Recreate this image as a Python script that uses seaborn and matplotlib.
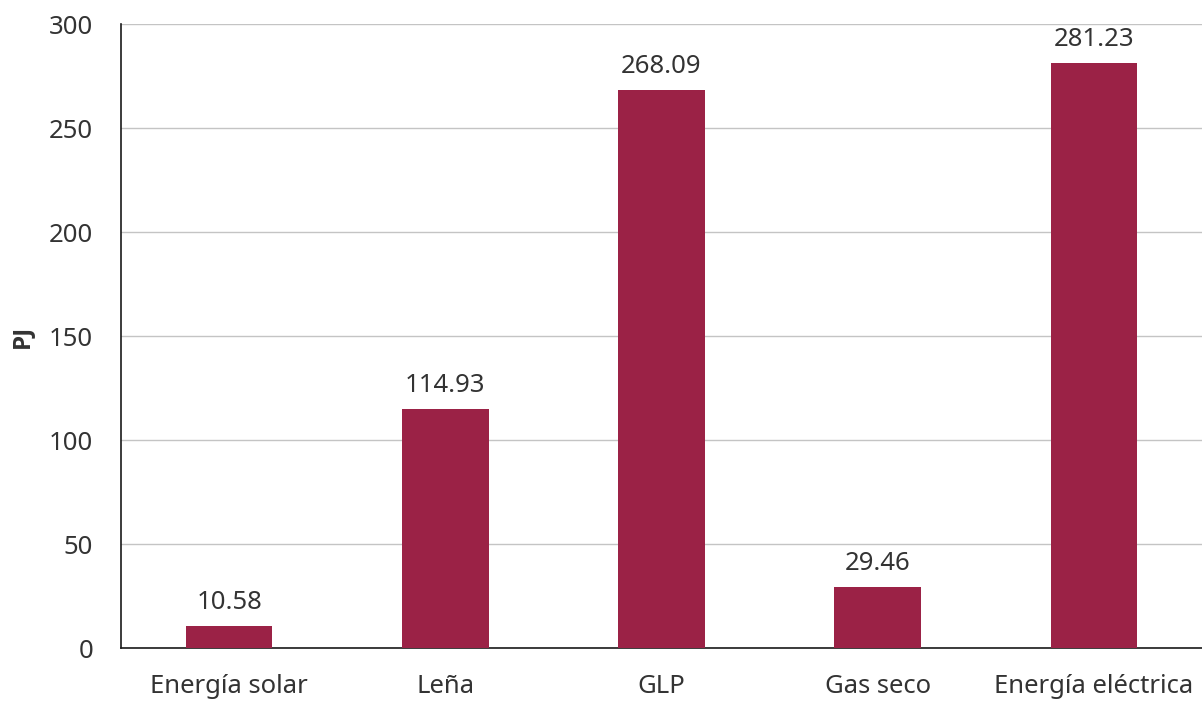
import matplotlib
matplotlib.use("Agg")
import matplotlib.pyplot as plt
import seaborn as sns
import pandas as pd

categories = ["Energía solar", "Leña", "GLP", "Gas seco", "Energía eléctrica"]
values = [10.58, 114.93, 268.09, 29.46, 281.23]
yticks = [0, 50, 100, 150, 200, 250, 300]

sns.set_theme(style="white")
plt.rcParams["font.family"] = ["Noto Sans", "DejaVu Sans"]

df = pd.DataFrame({"fuente": categories, "PJ": values})

fig = plt.figure(figsize=(12.02, 7.02), dpi=100)
ax = fig.add_axes([121 / 1202, 1 - 648 / 702, (1202 - 121) / 1202, (648 - 24) / 702])

sns.barplot(data=df, x="fuente", y="PJ", color="#9b2246", saturation=1,
            width=0.4, linewidth=0, ax=ax, zorder=3)

text_color = "#333333"
fs = 18.5

for i, v in enumerate(values):
    ax.annotate(f"{v:.2f}", (i, v), xytext=(0, 8), textcoords="offset points",
                ha="center", va="bottom", fontsize=fs, color=text_color)

ax.set_ylim(0, 300)
ax.set_yticks(yticks)
ax.set_yticklabels([str(t) for t in yticks], fontsize=fs, color=text_color)
ax.tick_params(axis="x", labelsize=fs, labelcolor=text_color, length=0, pad=19)
ax.tick_params(axis="y", length=0, pad=20)
ax.set_xlabel("")
ax.set_ylabel("PJ", fontsize=fs - 1, fontweight="bold", color=text_color,
              labelpad=11, family=["Open Sans", "DejaVu Sans"])

ax.yaxis.grid(True, color="#c4c4c4", linewidth=1, zorder=0)
ax.set_axisbelow(True)
for side in ["top", "right"]:
    ax.spines[side].set_visible(False)
ax.spines["left"].set_color("#1a1a1a")
ax.spines["bottom"].set_color("#1a1a1a")
ax.spines["left"].set_linewidth(1.2)
ax.spines["bottom"].set_linewidth(1.2)

fig.savefig("out.png", dpi=100)
